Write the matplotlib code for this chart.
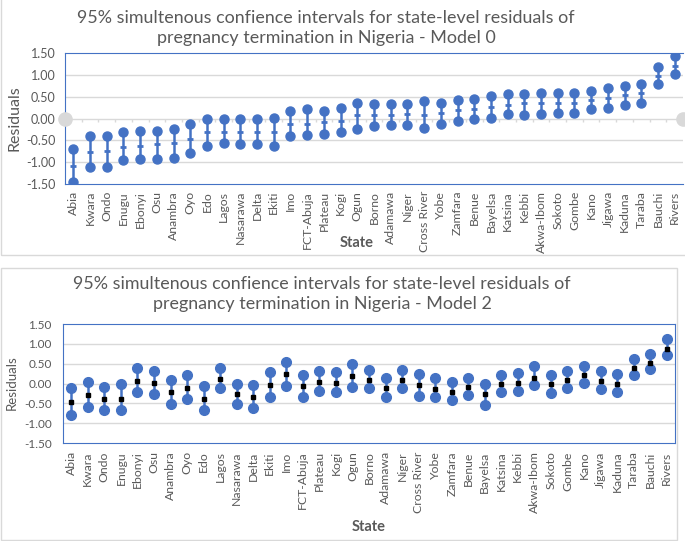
import matplotlib.pyplot as plt
from matplotlib.patches import Rectangle

plt.rcParams['font.family'] = ['Lato', 'DejaVu Sans']

states = ["Abia", "Kwara", "Ondo", "Enugu", "Ebonyi", "Osu", "Anambra", "Oyo", "Edo", "Lagos",
          "Nasarawa", "Delta", "Ekiti", "Imo", "FCT-Abuja", "Plateau", "Kogi", "Ogun", "Borno",
          "Adamawa", "Niger", "Cross River", "Yobe", "Zamfara", "Benue", "Bayelsa", "Katsina",
          "Kebbi", "Akwa-Ibom", "Sokoto", "Gombe", "Kano", "Jigawa", "Kaduna", "Taraba", "Bauchi",
          "Rivers"]

# Model 0
m0_upper = [-0.69, -0.41, -0.41, -0.32, -0.29, -0.28, -0.25, -0.12, 0.00, -0.02,
            0.00, -0.01, 0.02, 0.18, 0.21, 0.18, 0.23, 0.36, 0.34,
            0.34, 0.33, 0.39, 0.36, 0.43, 0.45, 0.52, 0.55,
            0.57, 0.59, 0.59, 0.59, 0.62, 0.69, 0.75, 0.79, 1.19, 1.42]
m0_lower = [-1.45, -1.10, -1.10, -0.95, -0.92, -0.92, -0.90, -0.79, -0.62, -0.56,
            -0.58, -0.58, -0.62, -0.41, -0.38, -0.36, -0.30, -0.23, -0.18,
            -0.16, -0.16, -0.21, -0.13, -0.05, -0.02, 0.02, 0.10,
            0.08, 0.11, 0.13, 0.13, 0.21, 0.23, 0.31, 0.36, 0.78, 1.01]
m0_mid = [-1.09, -0.77, -0.75, -0.65, -0.62, -0.59, -0.56, -0.46, -0.31, -0.31,
          -0.31, -0.31, -0.31, -0.13, -0.12, -0.08, -0.05, 0.08, 0.08,
          0.08, 0.10, 0.08, 0.12, 0.19, 0.21, 0.27, 0.32,
          0.35, 0.35, 0.36, 0.36, 0.42, 0.46, 0.54, 0.58, 0.98, 1.21]

# Model 2
m2_upper = [-0.11, 0.04, -0.09, -0.02, 0.40, 0.31, 0.09, 0.21, -0.06, 0.40,
            0.00, -0.03, 0.28, 0.55, 0.21, 0.32, 0.28, 0.49, 0.34,
            0.13, 0.34, 0.23, 0.15, 0.05, 0.15, 0.00, 0.21,
            0.26, 0.43, 0.22, 0.32, 0.43, 0.32, 0.23, 0.62, 0.74, 1.13]
m2_lower = [-0.80, -0.59, -0.68, -0.68, -0.22, -0.26, -0.51, -0.40, -0.68, -0.12,
            -0.51, -0.63, -0.33, -0.06, -0.33, -0.19, -0.22, -0.08, -0.11,
            -0.33, -0.12, -0.31, -0.33, -0.42, -0.29, -0.54, -0.22,
            -0.19, -0.05, -0.23, -0.11, 0.02, -0.15, -0.21, 0.22, 0.36, 0.71]
m2_mid = [-0.46, -0.30, -0.38, -0.38, 0.07, 0.01, -0.21, -0.11, -0.38, 0.12,
          -0.27, -0.33, -0.04, 0.24, -0.07, 0.05, 0.01, 0.19, 0.10,
          -0.12, 0.10, -0.04, -0.13, -0.21, -0.10, -0.27, -0.01,
          0.01, 0.15, -0.01, 0.10, 0.21, 0.07, -0.01, 0.40, 0.52, 0.88]

yticks = [-1.5, -1.0, -0.5, 0.0, 0.5, 1.0, 1.5]
title0 = "95% simultenous confience intervals for state-level residuals of\npregnancy termination in Nigeria - Model 0"
title2 = "95% simultenous confience intervals for state-level residuals of\npregnancy termination in Nigeria - Model 2"

W, H = 685, 541
blue = '#4472C4'
grey_txt = '#595959'
grid_c = '#D9D9D9'

fig = plt.figure(figsize=(W / 100, H / 100), dpi=100)


def px_axes(left, top, right, bottom):
    return fig.add_axes([left / W, 1 - bottom / H, (right - left) / W, (bottom - top) / H])


# chart frames
fig.patches.append(Rectangle((1 / W, 1 - 255 / H), 700 / W, 270 / H, transform=fig.transFigure,
                             fill=False, edgecolor=grid_c, lw=1))
fig.patches.append(Rectangle((1 / W, 1 - 540 / H), 676 / W, 272 / H, transform=fig.transFigure,
                             fill=False, edgecolor=grid_c, lw=1))

x = list(range(len(states)))

# ---- top chart (Model 0) ----
ax = px_axes(65, 53, 683, 184)
for g in [-1.0, -0.5, 0.5, 1.0]:
    ax.axhline(g, color=grid_c, lw=1, zorder=0)
ax.axhline(0, color=grid_c, lw=1, zorder=0)
ax.vlines([i + 0.5 for i in x[:-1]], -0.07, 0, color=grid_c, lw=1, zorder=0)
ax.vlines(x, m0_lower, m0_upper, color=blue, lw=1.8, zorder=2)
ax.plot(x, m0_upper, 'o', color=blue, ms=6.5, zorder=3)
ax.plot(x, m0_lower, 'o', color=blue, ms=6.5, zorder=3)
ax.plot(x, m0_mid, '_', color=blue, ms=4, mew=2, zorder=3)
ax.plot([-0.5, 36.5], [0, 0], 'o', color='#D9D9D9', ms=9.5, clip_on=False, zorder=4)
ax.set_xlim(-0.5, 36.5)
ax.set_ylim(-1.5, 1.5)
ax.set_yticks(yticks)
ax.set_yticklabels([f"{v:.2f}" for v in yticks])
ax.set_xticks(x)
ax.set_xticklabels(states, rotation=90)
ax.tick_params(axis='both', length=0, colors=grey_txt, labelsize=8.8)
ax.tick_params(axis='y', pad=7, labelsize=9)
ax.tick_params(axis='x', pad=5)
for s in ['left', 'top', 'bottom']:
    ax.spines[s].set_color(blue)
ax.spines['right'].set_visible(False)
fig.text(326 / W, 1 - 28 / H, title0, ha='center', va='center', fontsize=12.9,
         color=grey_txt, linespacing=1.25)
fig.text(15 / W, 1 - 118 / H, "Residuals", rotation=90, ha='center', va='center',
         fontsize=11.5, color=grey_txt)
fig.text(357 / W, 1 - 243 / H, "State", ha='center', va='center', fontsize=10.5,
         fontweight='bold', color=grey_txt)

# ---- bottom chart (Model 2) ----
ax2 = px_axes(63, 324, 675, 443)
for g in [-1.0, -0.5, 0.0, 0.5, 1.0]:
    ax2.axhline(g, color=grid_c, lw=1, zorder=0)
ax2.vlines(x, m2_lower, m2_upper, color=blue, lw=1.8, zorder=2)
ax2.plot(x, m2_upper, 'o', color=blue, ms=7, zorder=3)
ax2.plot(x, m2_lower, 'o', color=blue, ms=7, zorder=3)
ax2.plot(x, m2_mid, 's', color='black', ms=2.5, zorder=4)
ax2.set_xlim(-0.5, 36.5)
ax2.set_ylim(-1.5, 1.5)
ax2.set_yticks(yticks)
ax2.set_yticklabels([f"{v:.2f}" for v in yticks])
ax2.set_xticks(x)
ax2.set_xticklabels(states, rotation=90)
ax2.tick_params(axis='both', length=0, colors=grey_txt, labelsize=8.8)
ax2.tick_params(axis='y', pad=8, labelsize=8.5)
ax2.tick_params(axis='x', pad=6)
for s in ax2.spines.values():
    s.set_color(blue)
fig.text(322 / W, 1 - 294 / H, title2, ha='center', va='center', fontsize=12.9,
         color=grey_txt, linespacing=1.25)
fig.text(12 / W, 1 - 383 / H, "Residuals", rotation=90, ha='center', va='center',
         fontsize=9.5, color=grey_txt)
fig.text(369 / W, 1 - 527 / H, "State", ha='center', va='center', fontsize=10.5,
         fontweight='bold', color=grey_txt)

fig.savefig('out.png', dpi=100)
